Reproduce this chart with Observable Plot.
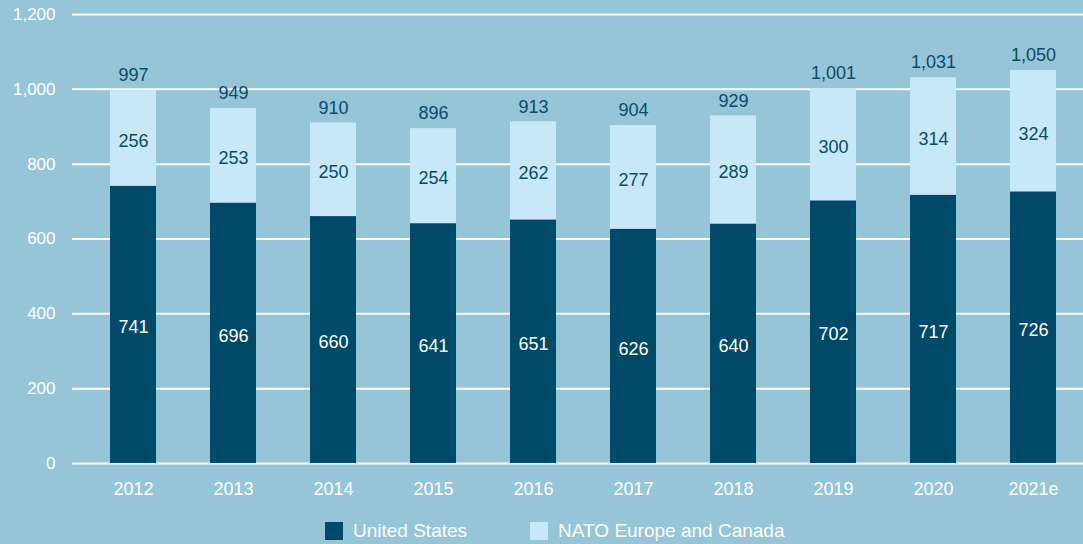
<!DOCTYPE html>
<html>
<head>
<meta charset="utf-8">
<script src="https://cdn.jsdelivr.net/npm/d3@7"></script>
<script src="https://cdn.jsdelivr.net/npm/@observablehq/plot@0.6"></script>
<style>
  html, body { margin: 0; padding: 0; background: #96c5d8; }
  body { width: 1083px; height: 544px; overflow: hidden; font-family: "Liberation Sans", Arial, sans-serif; }
  #chart svg { display: block; }
  #legend { display: flex; justify-content: flex-start; align-items: center; height: 26px; padding-top: 8px; padding-left: 325px; color: #fff; font-size: 19px; }
  .item { display: flex; align-items: center; }
  .sw { width: 18px; height: 18px; margin-right: 10px; }
</style>
</head>
<body>
<div id="chart"></div>
<div id="legend"></div>
<script>
const years = ["2012","2013","2014","2015","2016","2017","2018","2019","2020","2021e"];
const usValues = [741,696,660,641,651,626,640,702,717,726];
const natoValues = [256,253,250,254,262,277,289,300,314,324];
const totals = [997,949,910,896,913,904,929,1001,1031,1050];
const seriesNames = ["United States", "NATO Europe and Canada"];
const colors = ["#004a69", "#c6e8f8"];
const yTicks = [0,200,400,600,800,1000,1200];

const rows = [];
years.forEach((y, i) => {
  rows.push({year: y, series: seriesNames[0], value: usValues[i]});
  rows.push({year: y, series: seriesNames[1], value: natoValues[i]});
});
const totalRows = years.map((y, i) => ({year: y, total: totals[i], top: usValues[i] + natoValues[i]}));
const fmt = d3.format(",");

const chart = Plot.plot({
  width: 1083,
  height: 510,
  marginLeft: 72,
  marginRight: 0,
  marginTop: 14,
  marginBottom: 47,
  insetLeft: 11,
  style: {background: "transparent", fontFamily: "Liberation Sans, Arial, sans-serif", fontSize: "17px", color: "#ffffff"},
  x: {domain: years, paddingInner: 0.54, paddingOuter: 0.27, label: null},
  y: {domain: [0, 1200], label: null},
  color: {domain: seriesNames, range: colors},
  marks: [
    Plot.ruleY(yTicks, {stroke: "#ffffff", strokeWidth: 2}),
    Plot.axisY(yTicks, {tickFormat: fmt, tickSize: 0, tickPadding: 17, fontSize: 17, fill: "#ffffff"}),
    Plot.axisX({tickSize: 0, tickPadding: 18.5, fontSize: 18, fill: "#ffffff"}),
    Plot.barY(rows, {x: "year", y: "value", fill: "series", order: seriesNames}),
    Plot.text(rows, Plot.stackY({x: "year", y: "value", order: seriesNames, text: d => fmt(d.value),
      fill: d => d.series === seriesNames[0] ? "#ffffff" : "#0d4a68", fontSize: 18, dy: 2.5})),
    Plot.text(totalRows, {x: "year", y: "top", text: d => fmt(d.total), dy: -15, fill: "#0d4a68", fontSize: 18})
  ]
});
document.getElementById("chart").appendChild(chart);

const legend = document.getElementById("legend");
seriesNames.forEach((name, i) => {
  const item = document.createElement("div");
  item.className = "item";
  item.style.marginRight = i === 0 ? "63px" : "0";
  const sw = document.createElement("div");
  sw.className = "sw";
  sw.style.background = colors[i];
  const label = document.createElement("span");
  label.textContent = name;
  item.appendChild(sw);
  item.appendChild(label);
  legend.appendChild(item);
});
</script>
</body>
</html>
